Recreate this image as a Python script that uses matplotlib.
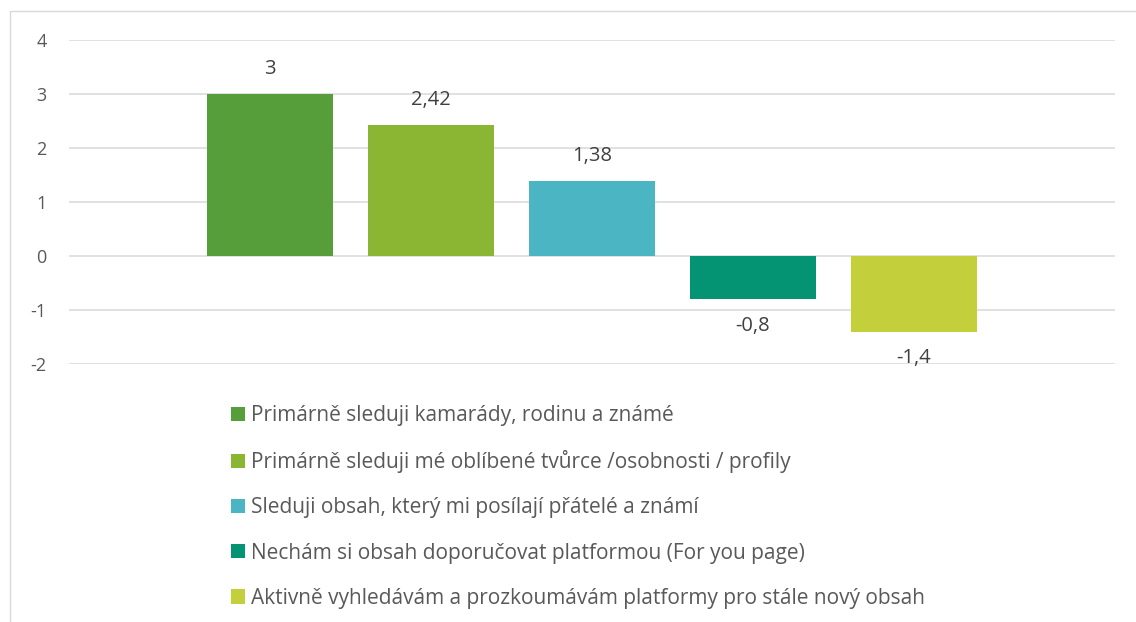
import matplotlib
matplotlib.use("Agg")
import matplotlib.pyplot as plt
from matplotlib.patches import Rectangle, Patch

plt.rcParams['font.family'] = ['Open Sans', 'DejaVu Sans']

series = [
    "Primárně sleduji kamarády, rodinu a známé",
    "Primárně sleduji mé oblíbené tvůrce /osobnosti / profily",
    "Sleduji obsah, který mi posílají přátelé a známí",
    "Nechám si obsah doporučovat platformou (For you page)",
    "Aktivně vyhledávám a prozkoumávám platformy pro stále nový obsah",
]
values = [3, 2.42, 1.38, -0.8, -1.4]
labels = ["3", "2,42", "1,38", "-0,8", "-1,4"]
colors = ["#559E3A", "#8BB634", "#4BB5C4", "#049474", "#C3D03B"]
yticks = [-2, -1, 0, 1, 2, 3, 4]

W, H = 1136, 622
fig = plt.figure(figsize=(W / 100, H / 100), dpi=100)

# outer chart frame
fig.patches.append(Rectangle((10 / W, -0.05), 1.2, 1 - 11 / H + 0.05, transform=fig.transFigure,
                             fill=False, edgecolor="#D9D9D9", linewidth=1.0))

ax = fig.add_axes([69 / W, 1 - 364 / H, (1115 - 69) / W, (364 - 40) / H])
x = list(range(len(values)))
bars = ax.bar(x, values, width=0.783, color=colors, zorder=3)
ax.set_xlim(-1.248, 5.248)
ax.set_ylim(-2, 4)
ax.set_yticks(yticks)
ax.set_yticklabels([str(t) for t in yticks])
ax.set_xticks([])
ax.grid(axis="y", color="#D9D9D9", linewidth=1.1, zorder=0)
for s in ax.spines.values():
    s.set_visible(False)
ax.tick_params(axis="y", length=0, pad=16, labelsize=13, labelcolor="#595959")

for xi, v, lab in zip(x, values, labels):
    off = 18 if v >= 0 else -19
    ax.annotate(lab, (xi, v), xytext=(0, off), textcoords="offset points",
                ha="center", va="center", fontsize=14.5, color="#404040")

handles = [Patch(facecolor=c, edgecolor="none") for c in colors]
leg = fig.legend(handles, series, loc="upper left", bbox_to_anchor=(231 / W, 1 - 405 / H),
                 frameon=False, fontsize=15, labelcolor="#595959",
                 handlelength=0.68, handleheight=0.68, handletextpad=0.3,
                 labelspacing=1.16, borderaxespad=0, borderpad=0)

fig.savefig("out.png", dpi=100)
